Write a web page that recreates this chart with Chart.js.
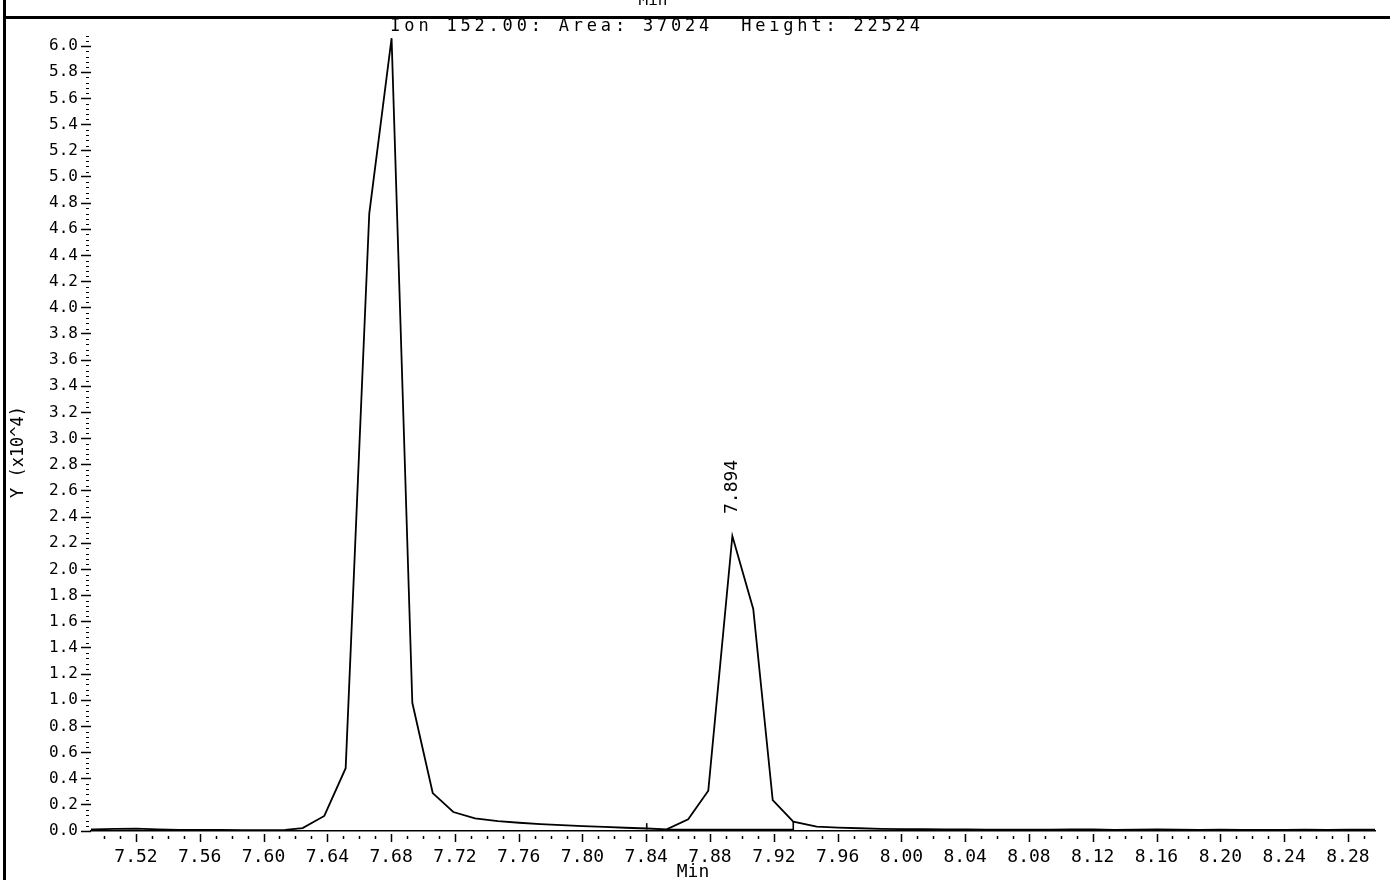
<!DOCTYPE html>
<html>
<head>
<meta charset="utf-8">
<script src="https://cdn.jsdelivr.net/npm/chart.js@4/dist/chart.umd.min.js"></script>
<style>
    body { margin: 0; background: #fff; }
    #chart { display: block; }
</style>
</head>
<body>
<canvas id="chart" width="1390" height="880"></canvas>
<script>
// retention time (min) of each scan
const retTimes = [
    7.4803, 7.4936, 7.5070, 7.5203, 7.5336, 7.5470, 7.5603, 7.5736, 7.5870, 7.6003,
    7.6136, 7.6245, 7.6381, 7.6515, 7.6663, 7.6803, 7.6933, 7.7061, 7.7190, 7.7326,
    7.7470, 7.7603, 7.7736, 7.7870, 7.8003, 7.8136, 7.8270, 7.8403, 7.8528, 7.8663,
    7.8789, 7.8940, 7.9071, 7.9193, 7.9322, 7.9469, 7.9603, 7.9736, 7.9870, 8.0003,
    8.0136, 8.0270, 8.0403, 8.0536, 8.0670, 8.0803, 8.0936, 8.1070, 8.1203, 8.1336,
    8.1470, 8.1603, 8.1736, 8.1870, 8.2003, 8.2136, 8.2270, 8.2403, 8.2536, 8.2670,
    8.2803, 8.2936, 8.3070
];
// ion 152 abundance, x10^4
const ionCounts = [
    0.012, 0.012, 0.016, 0.018, 0.012, 0.008, 0.008, 0.008, 0.006, 0.006,
    0.008, 0.022, 0.115, 0.480, 4.720, 6.060, 0.980, 0.290, 0.145, 0.097,
    0.076, 0.063, 0.053, 0.045, 0.038, 0.031, 0.025, 0.019, 0.012, 0.089,
    0.308, 2.255, 1.697, 0.237, 0.071, 0.033, 0.026, 0.021, 0.017, 0.015,
    0.014, 0.013, 0.012, 0.011, 0.010, 0.010, 0.011, 0.013, 0.012, 0.009,
    0.010, 0.013, 0.011, 0.009, 0.010, 0.009, 0.008, 0.009, 0.010, 0.008,
    0.011, 0.010, 0.010
];
// integration baseline under the labelled peak
const baseTimes = [7.8528, 7.9322, 7.9322];
const baseCounts = [0.012, 0.012, 0.071];
// start-of-integration marker
const markTimes = [7.8403, 7.8403];
const markCounts = [0.012, 0.060];

const peakTime = 7.894;
const peakLabel = '7.894';
const headerText = 'Ion 152.00: Area: 37024  Height: 22524';

const xTickValues = [7.52, 7.56, 7.60, 7.64, 7.68, 7.72, 7.76, 7.80, 7.84, 7.88, 7.92,
    7.96, 8.00, 8.04, 8.08, 8.12, 8.16, 8.20, 8.24, 8.28];
const yTickValues = [0.0, 0.2, 0.4, 0.6, 0.8, 1.0, 1.2, 1.4, 1.6, 1.8, 2.0, 2.2, 2.4, 2.6,
    2.8, 3.0, 3.2, 3.4, 3.6, 3.8, 4.0, 4.2, 4.4, 4.6, 4.8, 5.0, 5.2, 5.4, 5.6, 5.8, 6.0];

function toPoints(xs, ys) {
    return xs.map((x, i) => ({ x, y: ys[i] }));
}

const mono = 'DejaVu Sans Mono';

// page frame, header, minor ticks and text that chart.js has no place for
const plotterDecor = {
    id: 'plotterDecor',
    afterDraw(chart) {
        const ctx = chart.ctx;
        const xs = chart.scales.x;
        const ys = chart.scales.y;
        const area = chart.chartArea;
        ctx.save();
        ctx.fillStyle = '#000';
        ctx.strokeStyle = '#000';

        // frame
        ctx.fillRect(3, 0, 3, 880);
        ctx.fillRect(5, 16, 1385, 3);

        // cut-off axis title of the panel above
        ctx.font = '16px ' + mono;
        ctx.textAlign = 'center';
        ctx.textBaseline = 'alphabetic';
        ctx.fillText('Min', 653, 5);

        ctx.font = '17px ' + mono;
        ctx.textBaseline = 'middle';
        if ('letterSpacing' in ctx) ctx.letterSpacing = '3.8px';
        ctx.fillText(headerText, 657, 27);
        if ('letterSpacing' in ctx) ctx.letterSpacing = '0px';

        // x ticks, every 0.01 min
        ctx.lineWidth = 1.5;
        ctx.beginPath();
        for (let i = 750; i <= 829; i++) {
            let px = Math.round(xs.getPixelForValue(i / 100)) + 0.5;
            let major = (i - 752) % 4 === 0;
            ctx.moveTo(px, area.bottom + (major ? 3 : 5));
            ctx.lineTo(px, area.bottom + (major ? 11 : 8));
        }
        ctx.stroke();

        // y minor ticks, every 0.04
        ctx.lineWidth = 1;
        ctx.beginPath();
        for (let i = 0; i <= 152; i++) {
            if (i % 5 === 0) continue;
            let py = Math.round(ys.getPixelForValue(i * 0.04)) + 0.5;
            ctx.moveTo(area.left - 5, py);
            ctx.lineTo(area.left - 2, py);
        }
        ctx.stroke();

        // axis titles
        ctx.font = '18px ' + mono;
        ctx.textAlign = 'center';
        ctx.textBaseline = 'alphabetic';
        ctx.fillText('Min', 693, 877);

        ctx.save();
        ctx.translate(19, 452);
        ctx.rotate(-Math.PI / 2);
        ctx.font = '17px ' + mono;
        ctx.textBaseline = 'middle';
        ctx.fillText('Y (x10^4)', 0, 0);
        ctx.restore();

        // retention time above the peak
        let peakIdx = retTimes.indexOf(peakTime);
        let lx = xs.getPixelForValue(peakTime);
        let ly = ys.getPixelForValue(ionCounts[peakIdx]);
        ctx.save();
        ctx.translate(lx, ly - 22);
        ctx.rotate(-Math.PI / 2);
        ctx.font = '18px ' + mono;
        ctx.textAlign = 'left';
        ctx.textBaseline = 'middle';
        ctx.fillText(peakLabel, 0, 0);
        ctx.restore();

        ctx.restore();
    }
};

const ctx = document.getElementById('chart').getContext('2d');
const chart = new Chart(ctx, {
    type: 'line',
    data: {
        datasets: [{
            label: 'Ion 152.00',
            data: toPoints(retTimes, ionCounts),
            borderColor: '#000',
            borderWidth: 1.8,
            pointRadius: 0,
            tension: 0,
            fill: false
        }, {
            label: 'baseline',
            data: toPoints(baseTimes, baseCounts),
            borderColor: '#000',
            borderWidth: 1.6,
            pointRadius: 0,
            tension: 0
        }, {
            label: 'marker',
            data: toPoints(markTimes, markCounts),
            borderColor: '#000',
            borderWidth: 1.6,
            pointRadius: 0,
            tension: 0
        }]
    },
    options: {
        responsive: false,
        animation: false,
        devicePixelRatio: 1,
        layout: {
            padding: { left: 8, right: 15, top: 33, bottom: 0 }
        },
        plugins: {
            legend: { display: false },
            tooltip: { enabled: false }
        },
        scales: {
            x: {
                type: 'linear',
                min: 7.4918,
                max: 8.2970,
                afterBuildTicks: (scale) => {
                    scale.ticks = xTickValues.map(v => ({ value: v }));
                },
                afterFit: (scale) => {
                    scale.height = 49;
                },
                grid: { display: false, drawTicks: true, tickLength: 12 },
                border: { display: true, color: '#000', width: 1.5 },
                ticks: {
                    autoSkip: false,
                    maxRotation: 0,
                    padding: 4,
                    color: '#000',
                    font: { family: mono, size: 18 },
                    callback: (v) => Number(v).toFixed(2)
                }
            },
            y: {
                type: 'linear',
                min: 0,
                max: 6.1,
                afterBuildTicks: (scale) => {
                    scale.ticks = yTickValues.map(v => ({ value: v }));
                },
                afterFit: (scale) => {
                    scale.width = 83;
                },
                grid: {
                    display: true,
                    drawOnChartArea: false,
                    drawTicks: true,
                    tickLength: 10,
                    tickColor: '#000',
                    tickWidth: 1.5
                },
                border: { display: false },
                ticks: {
                    autoSkip: false,
                    padding: 3,
                    color: '#000',
                    font: { family: mono, size: 16 },
                    callback: (v) => Number(v).toFixed(1)
                }
            }
        }
    },
    plugins: [plotterDecor]
});
</script>
</body>
</html>
